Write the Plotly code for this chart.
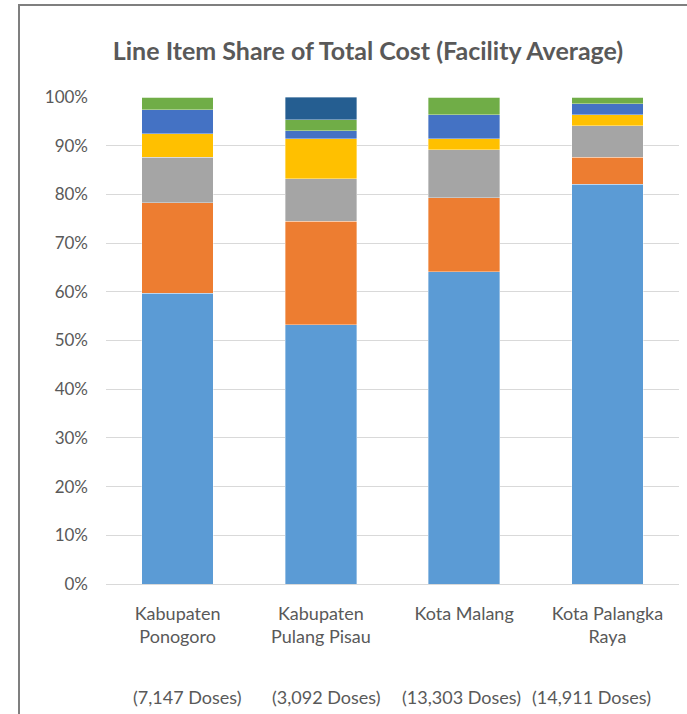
import plotly.graph_objects as go

categories = ["Kabupaten<br>Ponogoro", "Kabupaten<br>Pulang Pisau", "Kota Malang", "Kota Palangka<br>Raya"]
doses = ["(7,147 Doses)", "(3,092 Doses)", "(13,303 Doses)", "(14,911 Doses)"]

series_names = ["Line item 1", "Line item 2", "Line item 3", "Line item 4", "Line item 5", "Line item 6", "Line item 7"]
s1 = [0.597, 0.532, 0.641, 0.821]
s2 = [0.186, 0.213, 0.152, 0.055]
s3 = [0.093, 0.087, 0.099, 0.065]
s4 = [0.049, 0.082, 0.022, 0.023]
s5 = [0.049, 0.017, 0.050, 0.022]
s6 = [0.026, 0.022, 0.036, 0.014]
s7 = [0.000, 0.047, 0.000, 0.000]
series_values = [s1, s2, s3, s4, s5, s6, s7]
colors = ["#5B9BD5", "#ED7D31", "#A5A5A5", "#FFC000", "#4472C4", "#70AD47", "#255E91"]

font_family = "Lato, 'Open Sans', sans-serif"
x_idx = list(range(len(categories)))

W, H = 687, 714
L, R, T, B = 106, 8, 97, 130
PW, PH = W - L - R, H - T - B
CAT_PX = PW / len(categories)
dose_label_shift_px = [10, 6, -3, -16]

fig = go.Figure()
for name, vals, col in zip(series_names, series_values, colors):
    fig.add_trace(go.Bar(
        x=x_idx, y=vals, name=name,
        marker=dict(color=col, line=dict(color="rgba(255,255,255,0.6)", width=0.6)),
    ))

fig.update_layout(
    barmode="stack",
    bargap=0.5,
    width=W, height=H,
    margin=dict(l=L, r=R, t=T, b=B),
    paper_bgcolor="white",
    plot_bgcolor="white",
    showlegend=False,
    font=dict(family=font_family, color="#595959", size=17),
    title=dict(
        text="<b>Line Item Share of Total Cost (Facility Average)</b>",
        x=368 / W, xanchor="center", y=1 - 51 / H, yanchor="middle",
        font=dict(family=font_family, size=25, color="#595959"),
    ),
    xaxis=dict(
        tickmode="array", tickvals=x_idx, ticktext=categories,
        range=[-0.5, len(categories) - 0.5],
        showgrid=False, zeroline=False, showline=True,
        linecolor="#D9D9D9", linewidth=1, ticks="",
        tickfont=dict(size=18, color="#595959"),
        ticklabelstandoff=13,
        automargin=False,
    ),
    yaxis=dict(
        range=[0, 1.0], tickformat=".0%", dtick=0.1,
        showgrid=True, gridcolor="#D9D9D9", gridwidth=1,
        zeroline=False, showline=False, ticks="",
        tickfont=dict(size=17, color="#595959"),
        ticklabelstandoff=17,
        automargin=False,
    ),
)

for i, d in enumerate(doses):
    fig.add_annotation(
        x=i + dose_label_shift_px[i] / CAT_PX, xref="x",
        y=-(697 - (H - B)) / PH, yref="paper",
        text=d, showarrow=False, xanchor="center", yanchor="middle",
        font=dict(family=font_family, size=18, color="#595959"),
    )

# chart frame (extends past the visible right/bottom edges)
fig.add_shape(
    type="rect", xref="paper", yref="paper",
    x0=(19 - L) / PW, x1=1.2, y0=-0.5, y1=1 + (T - 5) / PH,
    line=dict(color="#7F7F7F", width=2), fillcolor="rgba(0,0,0,0)", layer="below",
)

fig.write_html("out.html", config={"displayModeBar": False},
               post_script="document.body.style.margin='0';")
